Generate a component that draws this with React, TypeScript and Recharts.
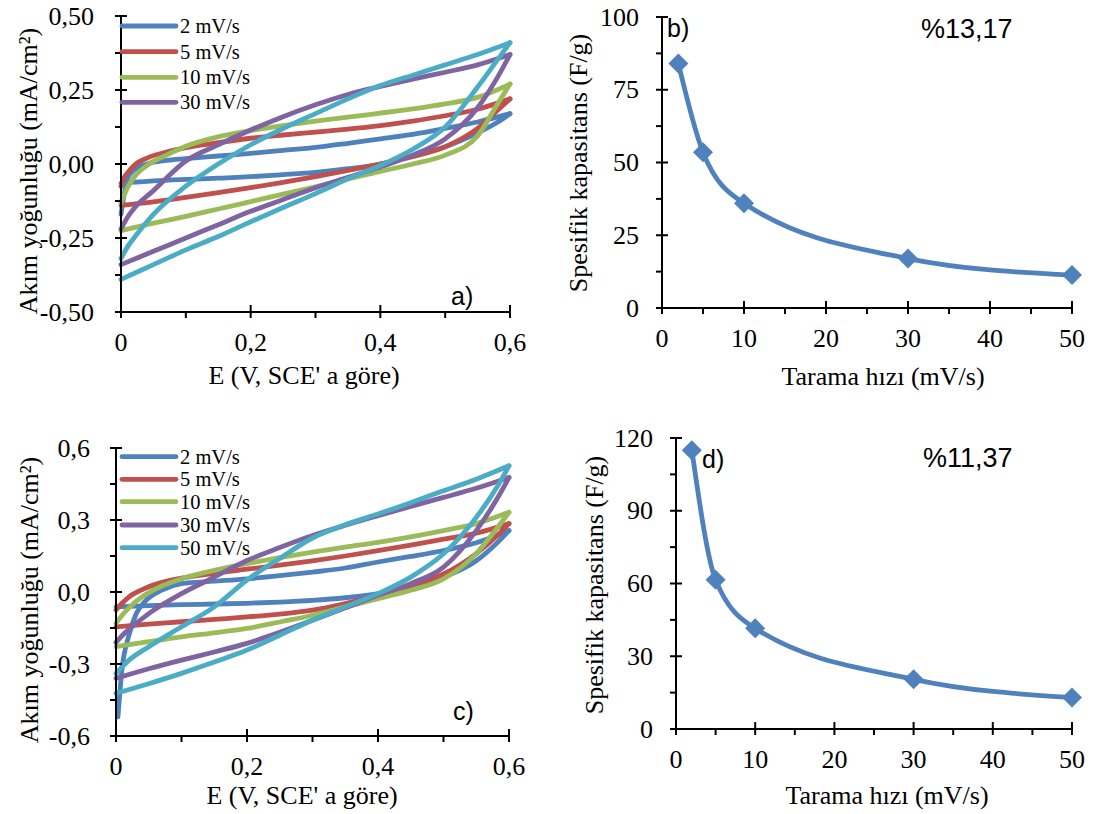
import React from 'react';
import { LineChart, Line, XAxis, YAxis } from 'recharts';

const SERIF = "'Liberation Serif', 'Times New Roman', Tinos, 'DejaVu Serif', serif";
const SANS = "'Liberation Sans', Arial, sans-serif";
const FS = 26;

const COLORS = ['#4F81BD', '#C0504D', '#9BBB59', '#8064A2', '#4BACC6'];
const RATE_LABELS = ['2 mV/s', '5 mV/s', '10 mV/s', '30 mV/s', '50 mV/s'];

// Panel a) CV loops: [E (V), j (mA/cm2)] — forward branch then reverse branch
const cvA2: [number, number][] = [
  [0, -0.17], [0.005, -0.1], [0.01, -0.05], [0.02, -0.02], [0.04, 0.0], [0.07, 0.012], [0.1, 0.018], [0.15, 0.027], [0.2, 0.036], [0.25, 0.046], [0.3, 0.056], [0.35, 0.07], [0.4, 0.085], [0.45, 0.1], [0.5, 0.12], [0.55, 0.142], [0.6, 0.17],
  [0.58, 0.14], [0.55, 0.105], [0.5, 0.058], [0.45, 0.028], [0.4, 0.0], [0.35, -0.016], [0.3, -0.028], [0.25, -0.036], [0.2, -0.043], [0.15, -0.048], [0.1, -0.052], [0.05, -0.057], [0, -0.065],
];
const cvA5: [number, number][] = [
  [0, -0.075], [0.005, -0.045], [0.01, -0.03], [0.02, -0.005], [0.04, 0.02], [0.07, 0.04], [0.1, 0.055], [0.15, 0.072], [0.2, 0.087], [0.25, 0.098], [0.3, 0.108], [0.35, 0.118], [0.4, 0.13], [0.45, 0.145], [0.5, 0.163], [0.55, 0.185], [0.6, 0.22],
  [0.58, 0.18], [0.55, 0.12], [0.5, 0.058], [0.45, 0.025], [0.4, 0.0], [0.35, -0.022], [0.3, -0.043], [0.25, -0.062], [0.2, -0.08], [0.15, -0.097], [0.1, -0.113], [0.05, -0.128], [0, -0.14],
];
const cvA10: [number, number][] = [
  [0, -0.13], [0.01, -0.08], [0.02, -0.045], [0.04, -0.005], [0.07, 0.03], [0.1, 0.06], [0.15, 0.092], [0.2, 0.113], [0.25, 0.13], [0.3, 0.145], [0.35, 0.158], [0.4, 0.172], [0.45, 0.186], [0.5, 0.203], [0.55, 0.225], [0.6, 0.27],
  [0.58, 0.2], [0.55, 0.095], [0.5, 0.03], [0.45, 0.0], [0.4, -0.025], [0.35, -0.05], [0.3, -0.077], [0.25, -0.102], [0.2, -0.127], [0.15, -0.152], [0.1, -0.177], [0.05, -0.2], [0, -0.225],
];
const cvA30: [number, number][] = [
  [0, -0.22], [0.01, -0.18], [0.02, -0.15], [0.05, -0.09], [0.1, 0.01], [0.15, 0.065], [0.2, 0.115], [0.25, 0.16], [0.3, 0.2], [0.35, 0.235], [0.4, 0.262], [0.45, 0.287], [0.5, 0.31], [0.55, 0.335], [0.6, 0.37],
  [0.58, 0.29], [0.55, 0.19], [0.5, 0.085], [0.45, 0.03], [0.4, -0.01], [0.35, -0.045], [0.3, -0.08], [0.25, -0.12], [0.2, -0.16], [0.15, -0.205], [0.1, -0.25], [0.05, -0.295], [0, -0.34],
];
const cvA50: [number, number][] = [
  [0, -0.32], [0.01, -0.28], [0.02, -0.25], [0.05, -0.17], [0.1, -0.075], [0.15, 0.0], [0.2, 0.065], [0.25, 0.12], [0.3, 0.17], [0.35, 0.22], [0.4, 0.265], [0.45, 0.3], [0.5, 0.335], [0.55, 0.37], [0.6, 0.41],
  [0.58, 0.35], [0.55, 0.26], [0.5, 0.125], [0.45, 0.05], [0.4, -0.005], [0.35, -0.05], [0.3, -0.1], [0.25, -0.147], [0.2, -0.195], [0.15, -0.245], [0.1, -0.29], [0.05, -0.34], [0, -0.39],
];

// Panel c) CV loops
const cvC2: [number, number][] = [
  [0.003, -0.52], [0.009, -0.325], [0.019, -0.187], [0.031, -0.09], [0.044, -0.04], [0.07, 0.008], [0.1, 0.035], [0.15, 0.045], [0.2, 0.055], [0.25, 0.068], [0.3, 0.083], [0.35, 0.1], [0.4, 0.125], [0.45, 0.148], [0.5, 0.173], [0.55, 0.205], [0.6, 0.256],
  [0.58, 0.2], [0.55, 0.13], [0.5, 0.062], [0.45, 0.022], [0.4, -0.007], [0.35, -0.024], [0.3, -0.035], [0.25, -0.042], [0.2, -0.047], [0.15, -0.05], [0.1, -0.053], [0.05, -0.057], [0, -0.062],
];
const cvC5: [number, number][] = [
  [0, -0.075], [0.01, -0.045], [0.02, -0.02], [0.04, 0.01], [0.07, 0.04], [0.1, 0.058], [0.15, 0.078], [0.2, 0.095], [0.25, 0.112], [0.3, 0.13], [0.35, 0.15], [0.4, 0.172], [0.45, 0.195], [0.5, 0.22], [0.55, 0.245], [0.6, 0.285],
  [0.58, 0.23], [0.55, 0.16], [0.5, 0.075], [0.45, 0.028], [0.4, -0.014], [0.35, -0.048], [0.3, -0.076], [0.25, -0.092], [0.2, -0.104], [0.15, -0.114], [0.1, -0.124], [0.05, -0.134], [0, -0.145],
];
const cvC10: [number, number][] = [
  [0, -0.13], [0.01, -0.095], [0.02, -0.065], [0.04, -0.02], [0.07, 0.025], [0.1, 0.055], [0.15, 0.09], [0.2, 0.118], [0.25, 0.143], [0.3, 0.166], [0.35, 0.187], [0.4, 0.207], [0.45, 0.23], [0.5, 0.256], [0.55, 0.285], [0.6, 0.332],
  [0.58, 0.26], [0.55, 0.16], [0.5, 0.055], [0.45, 0.007], [0.4, -0.028], [0.35, -0.062], [0.3, -0.097], [0.25, -0.125], [0.2, -0.152], [0.15, -0.17], [0.1, -0.187], [0.05, -0.207], [0, -0.228],
];
const cvC30: [number, number][] = [
  [0, -0.21], [0.01, -0.18], [0.02, -0.155], [0.05, -0.09], [0.1, -0.007], [0.15, 0.062], [0.2, 0.131], [0.25, 0.185], [0.3, 0.235], [0.35, 0.278], [0.4, 0.318], [0.45, 0.357], [0.5, 0.394], [0.55, 0.432], [0.6, 0.477],
  [0.58, 0.38], [0.55, 0.256], [0.5, 0.104], [0.45, 0.035], [0.4, -0.014], [0.35, -0.066], [0.3, -0.118], [0.25, -0.168], [0.2, -0.214], [0.15, -0.25], [0.1, -0.284], [0.05, -0.32], [0, -0.36],
];
const cvC50: [number, number][] = [
  [0, -0.34], [0.01, -0.31], [0.02, -0.284], [0.05, -0.228], [0.1, -0.145], [0.15, -0.062], [0.2, 0.05], [0.25, 0.14], [0.3, 0.225], [0.35, 0.28], [0.4, 0.325], [0.45, 0.372], [0.5, 0.422], [0.55, 0.47], [0.6, 0.526],
  [0.58, 0.43], [0.55, 0.311], [0.5, 0.159], [0.45, 0.062], [0.4, -0.007], [0.35, -0.062], [0.3, -0.118], [0.25, -0.18], [0.2, -0.242], [0.15, -0.292], [0.1, -0.339], [0.05, -0.382], [0, -0.422],
];

// Panels b) and d): specific capacitance vs scan rate
const scanRates = [2, 5, 10, 30, 50];
const capacitanceB = [84, 53.5, 36, 17, 11.3];
const capacitanceD = [115, 61.5, 41.5, 20.5, 13];

// Ticks
const cvXTicks = [0, 0.1, 0.2, 0.3, 0.4, 0.5, 0.6];
const aYTicks = [-0.5, -0.375, -0.25, -0.125, 0, 0.125, 0.25, 0.375, 0.5];
const cYTicks = [-0.6, -0.45, -0.3, -0.15, 0, 0.15, 0.3, 0.45, 0.6];
const rateTicks = [0, 5, 10, 15, 20, 25, 30, 35, 40, 45, 50];
const bYTicks = [0, 12.5, 25, 37.5, 50, 62.5, 75, 87.5, 100];
const dYTicks = [0, 15, 30, 45, 60, 75, 90, 105, 120];

type Pt = { x: number; y: number };
// split each loop at its vertex (max potential) into forward and reverse sweeps
const splitLoop = (arr: [number, number][]): [Pt[], Pt[]] => {
  const pts = arr.map(([x, y]) => ({ x, y }));
  let k = 0;
  pts.forEach((p, i) => { if (p.x > pts[k].x) k = i; });
  return [pts.slice(0, k + 1), pts.slice(k)];
};
const seriesA = [cvA2, cvA5, cvA10, cvA30, cvA50].map(splitLoop);
const seriesC = [cvC2, cvC5, cvC10, cvC30, cvC50].map(splitLoop);
const capB = scanRates.map((x, i) => ({ x, y: capacitanceB[i] }));
const capD = scanRates.map((x, i) => ({ x, y: capacitanceD[i] }));

const comma = (s: string) => s.replace('.', ',');
const isMajor = (v: number, step: number) => Math.abs(v / step - Math.round(v / step)) < 1e-6;

const serifStyle = { fontFamily: SERIF };
const sansStyle = { fontFamily: SANS };

function makeYTick(step: number, fmt: (v: number) => string, gap: number) {
  return (props: any) => {
    const { x, y, payload } = props;
    const v = payload.value;
    const mj = isMajor(v, step);
    return (
      <g>
        <line x1={x - 6} x2={mj ? x + 6 : x} y1={y} y2={y} stroke="#000" strokeWidth={2} />
        {mj && (
          <text x={x - gap} y={y} textAnchor="end" dominantBaseline="central" style={serifStyle} fontSize={FS} fill="#000">
            {fmt(v)}
          </text>
        )}
      </g>
    );
  };
}

function makeXTick(step: number, fmt: (v: number) => string) {
  return (props: any) => {
    const { x, y, payload } = props;
    const v = payload.value;
    const mj = isMajor(v, step);
    return (
      <g>
        <line x1={x} x2={x} y1={mj ? y - 7 : y} y2={y + 6} stroke="#000" strokeWidth={2} />
        {mj && (
          <text x={x} y={y + 39} textAnchor="middle" style={serifStyle} fontSize={FS} fill="#000">
            {fmt(v)}
          </text>
        )}
      </g>
    );
  };
}

const axisLine = { stroke: '#000', strokeWidth: 2 };

function Diamond(props: any) {
  const { cx, cy } = props;
  if (cx == null || cy == null) return <g />;
  const r = 10;
  return <path d={`M${cx},${cy - r}L${cx + r},${cy}L${cx},${cy + r}L${cx - r},${cy}Z`} fill="#4F81BD" />;
}

function CvChart(props: { series: [Pt[], Pt[]][]; yTicks: number[]; yStep: number; yFmt: (v: number) => string; yGap: number; width: number; height: number; margin: any; }) {
  const { series, yTicks, yStep, yFmt, yGap, width, height, margin } = props;
  const lines: React.ReactNode[] = [];
  series.forEach(([fwd, rev], i) => {
    [fwd, rev].forEach((d, j) => {
      lines.push(
        <Line key={`${i}-${j}`} data={d} dataKey="y" name={RATE_LABELS[i]} type="monotone" stroke={COLORS[i]} strokeWidth={4.8}
          strokeLinejoin="round" strokeLinecap="round" dot={false} activeDot={false} isAnimationActive={false} legendType="none" />
      );
    });
  });
  return (
    <LineChart width={width} height={height} margin={margin}>
      <XAxis type="number" dataKey="x" domain={[0, 0.6]} ticks={cvXTicks} interval={0}
        axisLine={axisLine} tickLine={false} tickSize={0} tickMargin={0} height={40}
        tick={makeXTick(0.2, (v) => (v === 0 ? '0' : comma(v.toFixed(1))))} />
      <YAxis type="number" dataKey="y" domain={[yTicks[0], yTicks[yTicks.length - 1]]} ticks={yTicks} interval={0}
        axisLine={axisLine} tickLine={false} tickSize={0} tickMargin={0} width={60}
        tick={makeYTick(yStep, yFmt, yGap)} />
      {lines}
    </LineChart>
  );
}

function CapChart(props: { data: Pt[]; yTicks: number[]; yStep: number; yGap: number; width: number; height: number; margin: any; }) {
  const { data, yTicks, yStep, yGap, width, height, margin } = props;
  return (
    <LineChart width={width} height={height} margin={margin}>
      <XAxis type="number" dataKey="x" domain={[0, 50]} ticks={rateTicks} interval={0}
        axisLine={axisLine} tickLine={false} tickSize={0} tickMargin={0} height={40}
        tick={makeXTick(10, (v) => String(v))} />
      <YAxis type="number" dataKey="y" domain={[0, yTicks[yTicks.length - 1]]} ticks={yTicks} interval={0}
        axisLine={axisLine} tickLine={false} tickSize={0} tickMargin={0} width={60}
        tick={makeYTick(yStep, (v) => String(v), yGap)} />
      <Line data={data} dataKey="y" type="monotone" stroke="#4F81BD" strokeWidth={4.8} dot={<Diamond />} activeDot={false} isAnimationActive={false} />
    </LineChart>
  );
}

function LegendBlock({ x, rows, count }: { x: number; rows: number[]; count: number }) {
  return (
    <g>
      {rows.slice(0, count).map((ry, i) => (
        <g key={i}>
          <line x1={x} x2={x + 54} y1={ry} y2={ry} stroke={COLORS[i]} strokeWidth={4.8} strokeLinecap="round" />
          <text x={x + 58} y={ry} dominantBaseline="central" style={serifStyle} fontSize={20.5} fill="#000">{RATE_LABELS[i]}</text>
        </g>
      ))}
    </g>
  );
}

export default function App() {
  return (
    <div style={{ position: 'absolute', left: 0, top: 0, width: 1097, height: 814, background: '#fff', overflow: 'hidden', fontFamily: SERIF }}>
      <div style={{ position: 'absolute', left: 0, top: 0 }}>
        <CvChart series={seriesA} yTicks={aYTicks} yStep={0.25} yFmt={(v) => comma(v.toFixed(2))} yGap={27}
          width={540} height={410} margin={{ top: 16, right: 30, bottom: 58, left: 61 }} />
      </div>
      <div style={{ position: 'absolute', left: 0, top: 410 }}>
        <CvChart series={seriesC} yTicks={cYTicks} yStep={0.3} yFmt={(v) => comma(v.toFixed(1))} yGap={26}
          width={540} height={404} margin={{ top: 38, right: 31, bottom: 38, left: 56 }} />
      </div>
      <div style={{ position: 'absolute', left: 540, top: 0 }}>
        <CapChart data={capB} yTicks={bYTicks} yStep={25} yGap={23}
          width={557} height={400} margin={{ top: 17, right: 25, bottom: 52, left: 62 }} />
      </div>
      <div style={{ position: 'absolute', left: 540, top: 410 }}>
        <CapChart data={capD} yTicks={dYTicks} yStep={30} yGap={23}
          width={557} height={404} margin={{ top: 28, right: 25, bottom: 45, left: 76 }} />
      </div>
      <svg width={1097} height={814} style={{ position: 'absolute', left: 0, top: 0, pointerEvents: 'none' }}>
        {/* panel a */}
        <text transform="translate(28,171) rotate(-90)" textAnchor="middle" dominantBaseline="central" style={serifStyle} fontSize={FS}>Akım yoğunluğu (mA/cm²)</text>
        <text x={304} y={384} textAnchor="middle" style={serifStyle} fontSize={FS}>E (V, SCE' a göre)</text>
        <text x={451} y={305} style={sansStyle} fontSize={25}>a)</text>
        <LegendBlock x={122} rows={[26, 51.7, 77.3, 102.3]} count={4} />
        {/* panel b */}
        <text transform="translate(578,163) rotate(-90)" textAnchor="middle" dominantBaseline="central" style={serifStyle} fontSize={FS}>Spesifik kapasitans (F/g)</text>
        <text x={883} y={385} textAnchor="middle" style={serifStyle} fontSize={FS}>Tarama hızı (mV/s)</text>
        <text x={667} y={37} style={sansStyle} fontSize={25}>b)</text>
        <text x={921} y={38} style={sansStyle} fontSize={27}>%13,17</text>
        {/* panel c */}
        <text transform="translate(29,600) rotate(-90)" textAnchor="middle" dominantBaseline="central" style={serifStyle} fontSize={FS}>Akım yoğunluğu (mA/cm²)</text>
        <text x={302} y={804} textAnchor="middle" style={serifStyle} fontSize={FS}>E (V, SCE' a göre)</text>
        <text x={453} y={720} style={sansStyle} fontSize={25}>c)</text>
        <LegendBlock x={122} rows={[456.7, 479.3, 501.7, 525, 547.7]} count={5} />
        {/* panel d */}
        <text transform="translate(594,585) rotate(-90)" textAnchor="middle" dominantBaseline="central" style={serifStyle} fontSize={FS}>Spesifik kapasitans (F/g)</text>
        <text x={887} y={804} textAnchor="middle" style={serifStyle} fontSize={FS}>Tarama hızı (mV/s)</text>
        <text x={702} y={468} style={sansStyle} fontSize={25}>d)</text>
        <text x={923} y={467} style={sansStyle} fontSize={27}>%11,37</text>
      </svg>
    </div>
  );
}
